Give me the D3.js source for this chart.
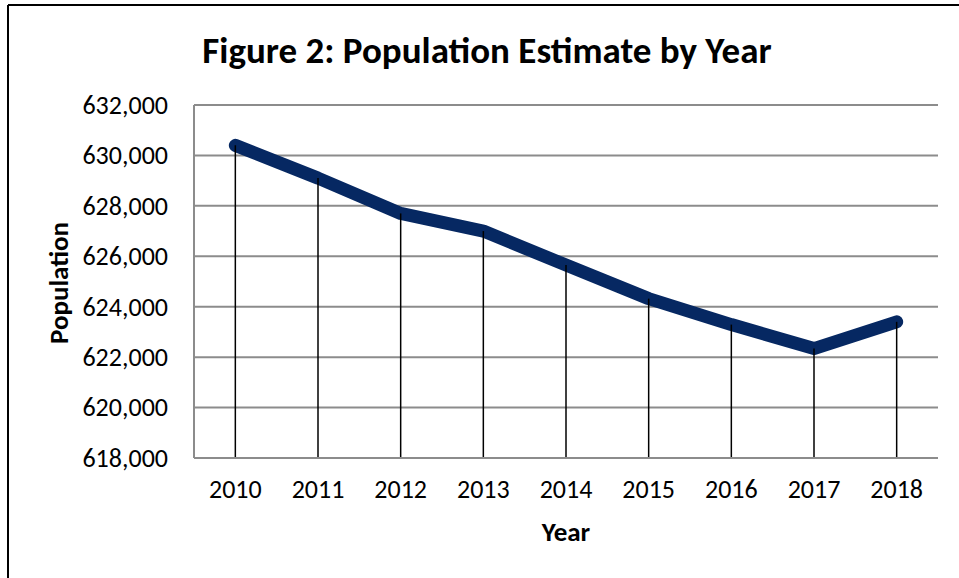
<!DOCTYPE html>
<html>
<head>
<meta charset="utf-8">
<script src="https://cdn.jsdelivr.net/npm/d3@7"></script>
<style>
  html, body { margin: 0; padding: 0; background: #fff; }
  svg { display: block; }
  text { font-family: Carlito, Calibri, Lato, "Open Sans", sans-serif; fill: #000; }
</style>
</head>
<body>
<svg id="chart" width="959" height="578"></svg>
<script>
// Population estimates by year
const years = ["2010", "2011", "2012", "2013", "2014", "2015", "2016", "2017", "2018"];
const population = [630400, 629100, 627700, 627000, 625650, 624320, 623290, 622340, 623400];
const yTicks = [618000, 620000, 622000, 624000, 626000, 628000, 630000, 632000];

const svg = d3.select("#chart");
const W = 959, H = 578;
const plot = { left: 194, right: 938, top: 105, bottom: 458 };
const FONT = "Carlito, Calibri, Lato, sans-serif";

// Outer frame (top and left edges)
svg.append("line").attr("x1", 8).attr("x2", W).attr("y1", 5).attr("y2", 5)
  .attr("stroke", "#000").attr("stroke-width", 2);
svg.append("line").attr("x1", 8).attr("x2", 8).attr("y1", 5).attr("y2", H)
  .attr("stroke", "#000").attr("stroke-width", 2);

const x = d3.scaleBand().domain(years).range([plot.left, plot.right]).padding(0);
const y = d3.scaleLinear().domain([618000, 632000]).range([plot.bottom, plot.top]);

// Horizontal gridlines
svg.append("g").selectAll("line").data(yTicks).join("line")
  .attr("x1", plot.left).attr("x2", plot.right)
  .attr("y1", d => y(d)).attr("y2", d => y(d))
  .attr("stroke", "#8c8c8c").attr("stroke-width", 2);

// Left axis line
svg.append("line").attr("x1", plot.left).attr("x2", plot.left)
  .attr("y1", plot.top).attr("y2", plot.bottom)
  .attr("stroke", "#8c8c8c").attr("stroke-width", 2);

// Y axis labels
const yAxis = d3.axisLeft(y).tickValues(yTicks).tickFormat(d3.format(",")).tickSize(0).tickPadding(26);
const gy = svg.append("g").attr("transform", `translate(${plot.left},0)`).call(yAxis);
gy.select(".domain").remove();
gy.selectAll("text").style("font-size", "26px").attr("fill", "#000")
  .style("font-family", FONT);

// X axis labels
const xAxis = d3.axisBottom(x).tickSize(0).tickPadding(22);
const gx = svg.append("g").attr("transform", `translate(0,${plot.bottom})`).call(xAxis);
gx.select(".domain").remove();
gx.selectAll("text").style("font-size", "26px").attr("fill", "#000")
  .style("font-family", FONT);

// Population line
const line = d3.line()
  .x((d, i) => x(years[i]) + x.bandwidth() / 2)
  .y(d => y(d));
svg.append("path").datum(population)
  .attr("d", line)
  .attr("fill", "none")
  .attr("stroke", "#062862")
  .attr("stroke-width", 13)
  .attr("stroke-linecap", "round")
  .attr("stroke-linejoin", "round");

// Drop lines from each point to the axis
svg.append("g").selectAll("line").data(population).join("line")
  .attr("x1", (d, i) => x(years[i]) + x.bandwidth() / 2)
  .attr("x2", (d, i) => x(years[i]) + x.bandwidth() / 2)
  .attr("y1", d => y(d)).attr("y2", plot.bottom)
  .attr("stroke", "#000").attr("stroke-width", 1.5);

// Bottom axis line
svg.append("line").attr("x1", plot.left).attr("x2", plot.right)
  .attr("y1", plot.bottom).attr("y2", plot.bottom)
  .attr("stroke", "#8c8c8c").attr("stroke-width", 2);

// Titles
svg.append("text").attr("x", 487).attr("y", 63).attr("text-anchor", "middle")
  .style("font-size", "37px").style("font-weight", "bold")
  .text("Figure 2: Population Estimate by Year");

svg.append("text").attr("x", (plot.left + plot.right) / 2).attr("y", 541)
  .attr("text-anchor", "middle")
  .style("font-size", "27px").style("font-weight", "bold")
  .text("Year");

svg.append("text")
  .attr("transform", "translate(68,283) rotate(-90)")
  .attr("text-anchor", "middle")
  .style("font-size", "27px").style("font-weight", "bold")
  .text("Population");
</script>
</body>
</html>
